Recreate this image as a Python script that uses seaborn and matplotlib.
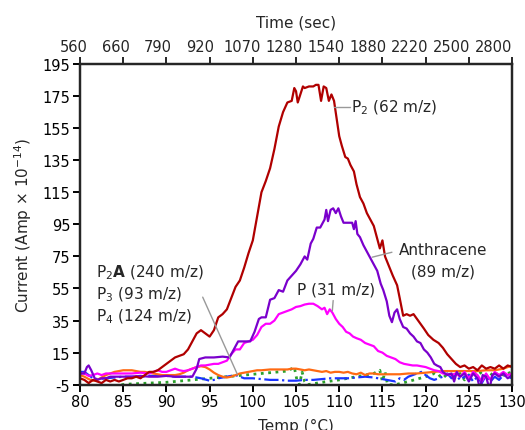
import numpy as np
import pandas as pd
import matplotlib
matplotlib.use("Agg")
import matplotlib.pyplot as plt
import matplotlib.transforms as mtransforms
import seaborn as sns

# ---------------- data ----------------
temp_ticks = [80, 85, 90, 95, 100, 105, 110, 115, 120, 125, 130]
time_labels = ["560", "660", "790", "920", "1070", "1280", "1540", "1880", "2220", "2500", "2800"]
y_ticks = [-5, 15, 35, 55, 75, 95, 115, 135, 155, 175, 195]

p2_x = [80, 80.5, 81, 81.5, 82, 82.5, 83, 83.5, 84, 84.5, 85, 85.5, 86, 86.5, 87, 87.5, 88, 88.5,
        89, 89.5, 90, 90.5, 91, 91.5, 92, 92.5, 93, 93.5, 94, 94.5, 95, 95.5, 96, 96.5, 97, 97.5,
        98, 98.5, 99, 99.5, 100, 100.5, 101, 101.5, 102, 102.5, 103, 103.5, 104, 104.5, 104.8,
        105, 105.2, 105.5, 105.8, 106, 106.5, 107, 107.3, 107.6, 107.9, 108.2, 108.5, 108.8,
        109.1, 109.4, 109.7, 110, 110.3, 110.7, 111, 111.3, 111.7, 112, 112.4, 112.8, 113.2,
        113.6, 114, 114.4, 114.7, 115, 115.3, 115.6, 116.2, 116.7, 117, 117.4, 117.8, 118.2,
        118.6, 119, 119.4, 119.8, 120.3, 120.9, 121.5, 122, 122.5, 123, 123.5, 124, 124.5, 125,
        125.5, 126, 126.5, 127, 127.5, 128, 128.5, 129, 129.5, 130]
p2_y = [-1, -2, -4, -2, -3, -4, -2, -3, -2, -3, -2, -1, -1, 0, -1, 1, 3, 3,
        4, 6, 8, 10, 12, 13, 14, 17, 22, 27, 29, 27, 25, 29, 37, 39, 42, 49,
        56, 60, 68, 77, 85, 100, 115, 122, 130, 142, 156, 165, 171, 172, 180,
        178, 171, 176, 181, 180, 181, 181, 182, 182, 172, 181, 180, 172,
        176, 172, 161, 150, 144, 137, 136, 132, 128, 120, 112, 108, 102,
        98, 94, 86, 80, 85, 75, 71, 63, 57, 49, 38, 39, 38,
        39, 36, 33, 30, 26, 23, 21, 18, 14, 11, 8, 6, 7, 5,
        6, 4, 7, 5, 6, 5, 7, 5, 7, 6]

anth_x = [80, 80.5, 80.8, 81, 81.3, 81.7, 82, 82.5, 83, 83.5, 84, 85, 86, 87, 88, 89, 90, 91, 92,
          93, 93.5, 93.8, 94.5, 95.5, 96.5, 97.3, 97.8, 98.3, 99, 99.7, 100.2, 100.7, 101, 101.5,
          102, 102.5, 103, 103.5, 104, 104.5, 105, 105.5, 106, 106.3, 106.7, 107, 107.4, 107.8,
          108.3, 108.5, 108.7, 109, 109.3, 109.6, 109.9, 110.2, 110.5, 111, 111.5, 111.7, 111.9,
          112.1, 112.4, 112.8, 113.2, 113.6, 114, 114.4, 114.8, 115.1, 115.5, 115.8, 116.1, 116.4,
          116.7, 117, 117.4, 117.8, 118.2, 118.6, 119, 119.4, 119.8, 120.2, 120.6, 121, 121.3,
          121.7, 122, 122.5, 123, 123.3, 123.6, 124, 124.5, 125, 125.5, 126, 126.3, 126.6, 127,
          127.4, 127.7, 128, 128.5, 129, 129.5, 130]
anth_y = [2, 2, 6, 7, 4, -1, -2, -1, -1, 0, 0, 0, 0, 0.5, 0, 0, 0.5, 0, 0,
          0, 5, 11, 12, 12, 12.5, 12, 17, 22, 22, 22, 28, 36, 37, 37,
          48, 49, 54, 53, 60, 63, 66, 70, 75, 73, 83, 86, 93, 93,
          98, 104, 97, 104, 105, 102, 105, 100, 96, 96, 96, 92, 97,
          89, 87, 82, 78, 74, 70, 66, 58, 54, 47, 38, 34, 40,
          42, 36, 31, 30, 27, 25, 22, 21, 17, 15, 12, 8, 7,
          6, 3, 1, 2, -3, 3, 0, 2, -3, 2, -1, -8, 1, 0,
          -8, 1, 2, 0, 2, -1, 1]

p_x = [80, 80.5, 81, 81.5, 82, 82.5, 83, 83.5, 84, 85, 86, 87, 88, 88.5, 89, 89.5, 90, 90.5, 91,
       91.5, 92, 92.5, 93, 93.5, 94, 94.5, 95, 95.5, 96, 96.5, 97, 97.5, 98, 98.5, 99, 99.5, 100,
       100.5, 101, 101.5, 102, 102.5, 103, 103.5, 104, 104.5, 105, 105.5, 106, 106.5, 107, 107.5,
       108, 108.3, 108.6, 108.9, 109.2, 109.6, 110, 110.4, 110.8, 111.2, 111.6, 112, 112.5, 113,
       113.5, 114, 114.5, 115, 115.5, 116, 116.5, 117, 117.5, 118, 118.5, 119, 119.5, 120, 120.5,
       121, 121.5, 122, 122.5, 123, 123.5, 124, 124.5, 125, 125.5, 126, 126.5, 127, 127.5, 128,
       128.5, 129, 129.5, 130]
p_y = [2, 2, 0.5, 1, 2, 1, 2, 2, 2, 2, 2, 2.5, 2, 3, 4, 3, 3, 4, 5,
       4, 3.5, 4, 5, 6, 7, 7, 7.5, 8, 8, 9, 10, 14, 17, 17, 21, 22, 23,
       26, 31, 33, 33, 35, 39, 40, 41, 42, 43.5, 44, 45, 45.5, 45.5, 44,
       42, 43, 39, 42, 40, 36, 33, 31, 28, 27, 25, 24, 23, 21,
       20, 19, 16, 15, 13, 12, 11, 9, 8, 7.5, 7, 7, 6.5, 6, 5,
       4, 3.5, 2, 1.5, 1, 2, 0, 3, -1, 3, 1, -3, 2, -2, 3,
       1, 3, 1, 2]

p2a_x = [80, 80.5, 81, 81.5, 82, 82.5, 83, 83.5, 84, 84.5, 85, 85.5, 86, 86.5, 87, 87.5, 88, 88.5,
         89, 89.5, 90, 90.5, 91, 91.5, 92, 92.5, 93, 93.5, 94, 94.5, 95, 95.5, 96, 96.5, 97, 97.5,
         98, 98.5, 99, 99.5, 100, 100.5, 101, 102, 103, 104, 104.5, 105, 105.5, 106, 106.5, 107,
         107.5, 108, 108.5, 109, 109.5, 110, 110.5, 111, 111.5, 112, 112.5, 113, 113.5, 114,
         114.5, 115, 116, 117, 118, 119, 120, 121, 122, 123, 124, 125, 126, 127, 128, 128.5,
         129, 129.5, 130]
p2a_y = [1, 0, -1.5, -2.5, -2, -0.5, 1, 2, 3, 3.5, 4, 4, 4, 3.5, 3, 3, 2.5, 2,
         1.5, 1, 1, 1, 1, 1.5, 2.5, 4, 5, 6, 6.5, 6, 4.5, 2.5, 1, 0, -0.5, 0,
         1, 2, 2.5, 3, 3.5, 4, 4, 4.5, 4.5, 4.5, 5, 5, 4.5, 4, 4.5, 4,
         3.5, 3, 3.5, 2.5, 3, 3, 2.5, 3, 2, 1.5, 2.5, 1, 2, 2,
         1.5, 1.5, 1.5, 1.5, 2, 2, 2.5, 3, 3.5, 3.5, 3.5, 3.5, 3.5, 4, 4, 4.5,
         5, 6, 7]

p3_x = [80, 80.5, 81, 81.5, 82, 83, 84, 85, 86, 87, 88, 89, 90, 91, 92, 93, 94, 95, 95.5, 96, 97,
        98, 98.5, 99, 100, 101, 102, 103, 104, 105, 106, 107, 108, 109, 110, 111, 112, 113, 114,
        115, 116, 116.5, 117, 117.5, 118, 118.5, 119, 119.5, 120, 120.5, 121, 121.5, 122, 122.5,
        123, 123.5, 124, 124.5, 125, 125.5, 126, 126.5, 127, 127.5, 128, 128.5, 129, 129.5, 130]
p3_y = [3, 3, 1, -1, -1.5, -1, -0.5, 0, 0, 0, 0.5, 0.5, 0.5, 0, 0, 0, -1, -2.5, -2, -1, 0,
        1, 0, -1, -1, -1.5, -2, -2, -2.5, -2.5, -2, -2, -1.5, -1, -1, -1, -0.5, 0, -0.5,
        -1.5, -2.5, -3, -1, -2, 0, 1, 2, 3, 1, -1, -2, -1, 0, 2,
        -1, 1, -2, 0, 1, -3, 0, -4, 1, -3, 0, -2, 1, 0, -1]

p4_x = [84.8, 86, 88, 90, 92, 94, 96, 98, 100, 102, 104, 104.5, 104.8, 105.1, 105.4, 105.7, 106,
        106.3, 108, 110, 112, 114, 114.7, 115, 115.3, 115.6, 116.5, 118, 120, 121, 121.5, 122,
        122.5, 123, 123.5, 124, 124.5, 125, 125.5, 126, 126.5, 127, 127.5, 128, 128.5, 129,
        129.5, 130]
p4_y = [-5, -4.5, -4, -3.5, -2.5, -1.5, -0.5, 0.5, 1.5, 2.5, 3.5, 5, 6, -2, -5, 3, -3,
        -5, -3.5, -2, 0, 2, 4, -3, 3, -5, -5, -3, 0, 2, 0, 2,
        -1, 3, 0, 2, -2, 1, 3, 1, 3, 0, 2, 0, 3, 1,
        2, 3]

# ---------------- figure ----------------
sns.set_style("ticks")
plt.rcParams["font.family"] = ["DejaVu Sans"]
plt.rcParams["mathtext.fontset"] = "dejavusans"
plt.rcParams["axes.unicode_minus"] = False

fig = plt.figure(figsize=(5.25, 4.31), dpi=100)
ax = fig.add_axes([0.1524, 0.1051, 0.8229, 0.7441])

series = [
    (p4_x, p4_y, "#2ca02c", ":", 2.0),
    (p3_x, p3_y, "#1a33ff", "-.", 1.6),
    (p2a_x, p2a_y, "#ff6a13", "-", 1.6),
    (p_x, p_y, "#ff00ff", "-", 1.6),
    (anth_x, anth_y, "#7a00cc", "-", 1.6),
    (p2_x, p2_y, "#b00000", "-", 1.6),
]
for xs, ys, col, ls, lw in series:
    sns.lineplot(x=xs, y=ys, ax=ax, color=col, linestyle=ls, linewidth=lw,
                 estimator=None, sort=False)

ax.set_xlim(80, 130)
ax.set_ylim(-5, 195)
ax.set_xticks(temp_ticks)
ax.set_yticks(y_ticks)
for s in ax.spines.values():
    s.set_linewidth(1.6)
    s.set_color("black")
ax.tick_params(axis="both", direction="out", length=5, width=1.4, labelsize=10.5,
               colors="black", pad=2)
ax.set_xlabel("Temp (°C)", fontsize=11, labelpad=6)
ax.set_ylabel(r"Current (Amp $\times$ 10$^{-14}$)", fontsize=11, labelpad=6)

top = ax.twiny()
top.set_xlim(80, 130)
top.set_xticks(temp_ticks)
top.set_xticklabels(time_labels)
top.tick_params(axis="x", direction="out", length=5, width=1.4, labelsize=10.5, pad=2)
for s in top.spines.values():
    s.set_linewidth(1.6)
top.set_xlabel("Time (sec)", fontsize=11, labelpad=9)
# the reference's top labels sit a little left of their ticks
for i, lab in enumerate(top.get_xticklabels()):
    off = (6 + 1.2 * i) / 100.0
    lab.set_transform(lab.get_transform() +
                      mtransforms.ScaledTranslation(-off, 0, fig.dpi_scale_trans))

# ---------------- annotations ----------------
lead = dict(color="#999999", linewidth=1.0)
ax.plot([109.4, 111.25], [168.2, 168.2], **lead)
ax.text(111.4, 168.2, r"P$_2$ (62 m/z)", fontsize=11, ha="left", va="center")

ax.plot([113.8, 116.1], [74.5, 77.6], **lead)
ax.text(122.0, 79.6, "Anthracene", fontsize=11, ha="center", va="center")
ax.text(122.0, 65.9, "(89 m/z)", fontsize=11, ha="center", va="center")

ax.plot([109.3, 109.2], [47.5, 41], **lead)
ax.text(109.6, 54.6, "P (31 m/z)", fontsize=11, ha="center", va="center")

ax.plot([94.2, 98.2], [49.6, 1.6], **lead)
ax.text(81.9, 65.3, r"P$_2$$\mathbf{A}$ (240 m/z)", fontsize=11, ha="left", va="center")
ax.text(81.9, 51.5, r"P$_3$ (93 m/z)", fontsize=11, ha="left", va="center")
ax.text(81.9, 37.8, r"P$_4$ (124 m/z)", fontsize=11, ha="left", va="center")

fig.savefig("out.png", dpi=100)
